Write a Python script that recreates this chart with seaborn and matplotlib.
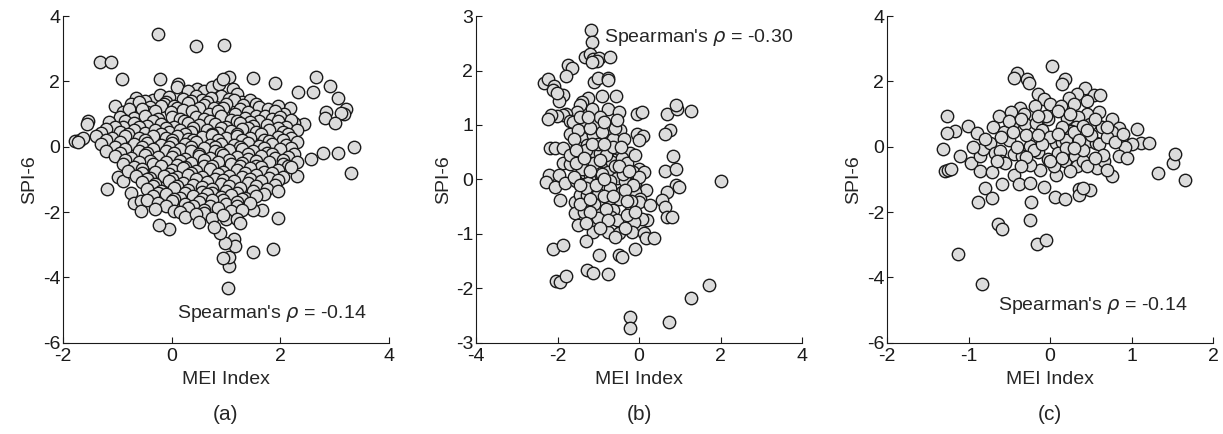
import matplotlib
matplotlib.use("Agg")
import matplotlib.pyplot as plt
import seaborn as sns
import pandas as pd

sns.set_theme(style="ticks")
plt.rcParams["font.family"] = ["Liberation Sans", "DejaVu Sans"]
plt.rcParams["mathtext.fontset"] = "dejavusans"
plt.rcParams["axes.unicode_minus"] = False

# ---- panel (a): all months ----
pts_a = [
    (-0.26, 3.44), (0.45, 3.08), (0.96, 3.11), (-1.31, 2.6), (-1.11, 2.6), (-0.92, 2.06), (-0.22, 2.06),
    (1.49, 2.1), (1.91, 1.95), (2.66, 2.15), (2.33, 1.67), (2.6, 1.69), (2.92, 1.86), (3.07, 1.5),
    (3.2, 1.16), (3.18, 1.0), (3.12, 1.03), (2.84, 1.06), (2.82, 0.88), (3.01, 0.72), (2.43, 0.70),
    (2.26, 0.73), (3.35, 0.0), (3.3, -0.79), (3.07, -0.19), (2.78, -0.19), (2.57, -0.36), (2.31, -0.89),
    (1.95, -2.17), (1.87, -3.13), (1.49, -3.22), (1.03, -4.33), (1.06, -3.66), (1.05, -3.37), (0.94, -3.4),
    (1.14, -2.82), (1.17, -3.05), (0.99, -2.94), (0.89, -2.64), (-0.04, -2.51), (-0.23, -2.38),
    (1.66, -1.92), (1.49, -1.94), (-1.78, 0.18), (-1.69, 0.21), (-1.63, 0.26), (-1.72, 0.15),
    (-1.54, 0.8), (-1.56, 0.70), (-1.36, 0.34), (-1.19, -1.3), (-0.99, -0.94), (-0.90, -1.05),
    (-0.75, -1.4), (-0.69, -1.71), (-0.57, -1.66), (-0.57, -1.97), (-1.04, 1.26), (0.12, 1.93),
    (0.10, 1.82), (0.47, 1.78), (0.60, 1.72), (0.75, 1.84), (0.87, 1.93), (1.05, 2.13), (0.94, 2.06),
    (1.12, 1.76), (1.20, 1.63), (0.30, 1.70),
    (-0.65, 1.49), (-0.35, 1.42), (-0.22, 1.57), (0.20, 1.47), (0.45, 1.56), (0.55, 1.42), (0.90, 1.55),
    (1.05, 1.45), (1.30, 1.38), (1.45, 1.42), (0.72, 1.50), (-0.05, 1.52),
    (-0.50, 1.40), (-0.10, 1.38), (0.35, 1.40), (0.65, 1.36), (1.15, 1.42), (1.55, 1.30),
    (-0.75, 1.30), (-0.60, 1.36), (-0.40, 1.22), (-0.15, 1.30), (0.05, 1.25), (0.30, 1.33), (0.60, 1.28),
    (0.78, 1.20), (1.00, 1.32), (1.32, 1.28), (1.60, 1.22), (1.78, 1.16), (2.17, 1.18), (-0.20, 1.26),
    (-0.90, 1.05), (-0.45, 1.05), (0.10, 1.18), (0.50, 1.18), (0.95, 1.18), (1.25, 1.15), (1.95, 1.25),
    (-0.78, 1.16), (-0.55, 1.16), (-0.30, 1.08), (-0.02, 1.06), (0.20, 1.12), (0.38, 1.08), (0.68, 1.00),
    (0.85, 1.10), (1.17, 1.00), (1.40, 1.05), (1.56, 0.95), (1.72, 0.95), (2.07, 1.00), (1.90, 1.08),
    (-0.96, 0.90), (-0.70, 0.88), (-0.50, 0.95), (-0.25, 0.85), (0.00, 0.92), (0.15, 0.84), (0.45, 0.90),
    (0.60, 0.86), (0.90, 0.94), (1.10, 0.82), (1.35, 0.88), (1.60, 0.80), (1.85, 0.86), (2.00, 0.92),
    (-0.85, 0.78), (-0.35, 0.78), (0.22, 0.78), (0.70, 0.78), (1.20, 0.78), (1.45, 0.76), (1.95, 0.78),
    (2.20, 0.82),
    (-1.15, 0.75), (-0.69, 0.73), (-0.45, 0.65), (-0.20, 0.70), (0.05, 0.62), (0.30, 0.74), (0.50, 0.66),
    (0.80, 0.70), (1.00, 0.60), (1.25, 0.72), (1.50, 0.64), (1.75, 0.68), (2.10, 0.62), (-0.90, 0.62),
    (-1.05, 0.62), (-0.60, 0.60), (-0.10, 0.58), (0.40, 0.58), (0.90, 0.58), (1.40, 0.58), (1.95, 0.58),
    (-1.20, 0.54), (-0.95, 0.46), (-0.70, 0.52), (-0.50, 0.42), (-0.30, 0.50), (-0.05, 0.46), (0.15, 0.52),
    (0.35, 0.44), (0.65, 0.50), (0.85, 0.42), (1.10, 0.48), (1.30, 0.54), (1.55, 0.44), (1.80, 0.50),
    (2.05, 0.46), (2.30, 0.52),
    (-1.30, 0.42), (-0.80, 0.40), (-0.20, 0.38), (0.25, 0.38), (0.75, 0.40), (1.20, 0.40), (1.65, 0.38),
    (2.15, 0.40),
    (-1.40, 0.34), (-1.10, 0.28), (-0.85, 0.32), (-0.60, 0.26), (-0.35, 0.34), (-0.10, 0.28), (0.10, 0.32),
    (0.30, 0.24), (0.55, 0.30), (0.75, 0.36), (1.00, 0.26), (1.20, 0.32), (1.45, 0.28), (1.70, 0.22),
    (1.95, 0.30), (2.20, 0.26),
    (-1.20, 0.20), (-0.50, 0.20), (0.00, 0.20), (0.40, 0.20), (0.85, 0.20), (1.30, 0.20), (1.80, 0.18),
    (2.05, 0.20),
    (-1.30, 0.10), (-0.95, 0.14), (-0.70, 0.08), (-0.45, 0.12), (-0.20, 0.06), (0.00, 0.12), (0.25, 0.08),
    (0.45, 0.14), (0.70, 0.04), (0.90, 0.10), (1.15, 0.06), (1.40, 0.12), (1.60, 0.02), (1.85, 0.10),
    (2.10, 0.06), (2.30, 0.14),
    (-1.05, 0.00), (-0.55, -0.02), (-0.05, 0.00), (0.35, 0.00), (0.80, -0.02), (1.25, 0.00), (1.70, -0.04),
    (2.20, -0.04),
    (-1.20, -0.14), (-0.85, -0.08), (-0.60, -0.12), (-0.35, -0.06), (-0.10, -0.14), (0.15, -0.08),
    (0.35, -0.12), (0.60, -0.04), (0.80, -0.14), (1.05, -0.10), (1.30, -0.06), (1.50, -0.12),
    (1.75, -0.18), (2.00, -0.08), (2.25, -0.22),
    (-0.95, -0.20), (-0.45, -0.20), (0.05, -0.20), (0.50, -0.22), (0.90, -0.20), (1.40, -0.22),
    (1.85, -0.22),
    (-1.05, -0.28), (-0.75, -0.34), (-0.50, -0.26), (-0.25, -0.32), (0.00, -0.30), (0.25, -0.36),
    (0.50, -0.28), (0.70, -0.34), (0.95, -0.26), (1.20, -0.32), (1.40, -0.38), (1.65, -0.28),
    (1.90, -0.34), (2.15, -0.30),
    (-0.85, -0.40), (-0.40, -0.42), (0.15, -0.42), (0.60, -0.40), (1.05, -0.40), (1.55, -0.42),
    (2.05, -0.40),
    (-0.90, -0.52), (-0.60, -0.46), (-0.35, -0.54), (-0.10, -0.48), (0.10, -0.56), (0.35, -0.50),
    (0.60, -0.58), (0.85, -0.46), (1.10, -0.54), (1.30, -0.50), (1.55, -0.58), (1.80, -0.46),
    (2.05, -0.52), (2.30, -0.48),
    (-0.70, -0.62), (-0.20, -0.60), (0.25, -0.62), (0.75, -0.60), (1.25, -0.60), (1.65, -0.62),
    (2.15, -0.60),
    (-0.80, -0.74), (-0.55, -0.68), (-0.30, -0.76), (0.00, -0.70), (0.20, -0.66), (0.45, -0.74),
    (0.70, -0.68), (0.95, -0.76), (1.20, -0.70), (1.45, -0.64), (1.70, -0.76), (1.95, -0.70), (2.20, -0.62),
    (-0.55, -0.80), (-0.05, -0.82), (0.35, -0.80), (0.85, -0.82), (1.35, -0.80), (1.85, -0.80),
    (-0.65, -0.90), (-0.40, -0.96), (-0.15, -0.88), (0.10, -0.94), (0.30, -0.86), (0.55, -0.92),
    (0.80, -0.98), (1.05, -0.88), (1.30, -0.94), (1.55, -0.86), (1.80, -0.96), (2.05, -0.92),
    (-0.45, -1.00), (0.00, -1.00), (0.45, -1.00), (0.95, -1.02), (1.45, -1.00), (1.95, -1.02),
    (-0.55, -1.08), (-0.30, -1.14), (-0.05, -1.06), (0.20, -1.12), (0.40, -1.18), (0.65, -1.08),
    (0.90, -1.14), (1.15, -1.04), (1.40, -1.12), (1.65, -1.06), (1.90, -1.16),
    (-0.35, -1.20), (0.10, -1.20), (0.55, -1.22), (1.05, -1.20), (1.55, -1.20),
    (-0.45, -1.28), (-0.20, -1.34), (0.05, -1.26), (0.30, -1.32), (0.55, -1.38), (0.75, -1.28),
    (1.00, -1.34), (1.25, -1.26), (1.50, -1.36), (1.75, -1.30), (1.95, -1.34),
    (-0.25, -1.40), (0.25, -1.42), (0.75, -1.40), (1.20, -1.40), (1.70, -1.44),
    (-0.35, -1.52), (-0.10, -1.46), (0.15, -1.56), (0.40, -1.50), (0.65, -1.44), (0.90, -1.54),
    (1.10, -1.48), (1.35, -1.56), (1.55, -1.50),
    (-0.45, -1.62), (0.05, -1.60), (0.55, -1.60), (0.95, -1.62), (1.30, -1.60),
    (-0.25, -1.72), (0.00, -1.66), (0.25, -1.76), (0.50, -1.70), (0.75, -1.64), (1.00, -1.74),
    (1.20, -1.68), (1.45, -1.72),
    (-0.10, -1.80), (0.40, -1.80), (0.70, -1.82), (1.20, -1.80),
    (-0.30, -1.90), (0.05, -1.96), (0.30, -1.86), (0.60, -1.94), (0.85, -1.88), (1.10, -1.98), (1.30, -1.92),
    (0.15, -2.00), (0.60, -2.02), (1.00, -2.20),
    (0.25, -2.14), (0.45, -2.06), (0.75, -2.18), (0.95, -2.10), (1.20, -2.22),
    (0.50, -2.30), (1.25, -2.32), (0.78, -2.45),
]
mei_a = [p[0] for p in pts_a]
spi_a = [p[1] for p in pts_a]

# ---- panel (b) ----
pts_b = [
    (-1.18, 2.75), (-1.16, 2.53), (-1.33, 2.25), (-1.2, 2.31), (-1.12, 2.22), (-0.97, 2.23), (-0.72, 2.25),
    (-1.04, 2.17), (-1.16, 2.16), (-1.75, 2.11), (-1.65, 2.04), (-1.79, 1.9), (-2.34, 1.78), (-2.23, 1.85),
    (-2.09, 1.72), (-2.1, 1.64), (-1.1, 1.79), (-1.0, 1.87), (-0.77, 1.87), (-0.77, 1.82),
    (-1.86, 1.55), (-1.96, 1.44), (-2.02, 1.58), (-0.91, 1.54), (-0.56, 1.54), (-1.24, 1.49), (-1.41, 1.43),
    (-1.45, 1.36), (-1.16, 1.30), (-0.75, 1.30), (-0.5, 1.23), (-1.53, 1.24), (-1.78, 1.21), (-1.86, 1.18),
    (-2.02, 1.17), (-2.15, 1.19), (-2.23, 1.11), (-0.05, 1.21), (0.07, 1.24), (0.69, 1.21), (0.94, 1.3),
    (1.27, 1.25), (0.9, 1.36), (-1.7, 1.07), (-1.61, 1.05), (-1.34, 1.01), (-1.04, 1.03), (-0.72, 0.95),
    (-0.46, 0.91), (-1.7, 0.83), (-1.41, 0.76), (-1.12, 0.81), (-0.91, 0.87), (-0.63, 0.75), (-0.38, 0.75),
    (-0.05, 0.83), (0.1, 0.8), (-0.01, 0.72), (0.77, 0.91), (0.65, 0.84),
    (-2.19, 0.57), (-2.07, 0.57), (-1.86, 0.57), (-1.53, 0.6), (-1.28, 0.63), (-1.12, 0.52), (-0.95, 0.48),
    (-0.75, 0.52), (-0.5, 0.56), (-0.23, 0.48), (-1.49, 0.42), (0.84, 0.43),
    (-1.86, 0.31), (-1.7, 0.28), (-1.28, 0.26), (-1.0, 0.29), (-0.83, 0.31), (-0.67, 0.32), (-0.42, 0.39),
    (-0.01, 0.2), (-0.15, 0.14), (0.12, 0.13), (0.65, 0.15), (0.92, 0.19),
    (-2.21, 0.08), (-1.96, 0.09), (-1.41, 0.14), (-1.2, 0.08), (-0.95, 0.11), (-0.75, 0.14), (-0.54, 0.03),
    (-2.27, -0.04), (-2.07, -0.13), (-1.82, -0.07), (-1.55, -0.03), (-1.24, -0.07), (-0.71, -0.03),
    (-0.34, -0.03), (-0.09, -0.07), (0.16, -0.2), (0.91, -0.1), (0.98, -0.13),
    (-1.94, -0.38), (-1.57, -0.41), (-1.45, -0.29), (-1.28, -0.29), (-1.0, -0.26), (-0.71, -0.41),
    (-0.42, -0.23), (-0.09, -0.23), (0.03, -0.35), (-0.01, -0.42), (0.28, -0.46), (0.69, -0.23),
    (0.57, -0.38), (0.65, -0.5),
    (-1.57, -0.62), (-1.27, -0.53), (-0.95, -0.59), (-0.63, -0.56), (-0.23, -0.59), (0.2, -0.75),
    (0.07, -0.72), (0.69, -0.69), (0.81, -0.69),
    (-1.49, -0.83), (-1.16, -0.75), (-0.91, -0.83), (-0.69, -0.69), (-0.42, -0.83), (-0.13, -0.78),
    (-1.14, -0.96), (-0.75, -0.96), (-0.5, -0.99), (-0.17, -0.96), (0.12, -0.99), (0.18, -1.07), (0.38, -1.08),
    (-1.31, -1.13), (-2.12, -1.28), (-1.86, -1.2), (-0.97, -1.38), (-0.5, -1.38), (-0.42, -1.42),
    (-0.09, -1.28), (-1.28, -1.66), (-1.14, -1.72), (-0.75, -1.74), (-2.04, -1.87), (-1.94, -1.88),
    (-1.78, -1.77), (1.72, -1.94), (1.28, -2.18), (-0.21, -2.52), (-0.21, -2.73), (0.73, -2.62),
    (2.02, -0.03),
    (-1.5, 0.9), (-1.3, 0.55), (-1.1, 0.3), (-0.9, 0.1), (-0.7, -0.15), (-0.5, -0.35), (-1.3, -0.15),
    (-1.1, -0.45), (-0.85, -0.3), (-0.6, 0.25), (-0.4, 0.1), (-1.4, 0.2), (-1.2, 0.95), (-0.95, 1.15),
    (-0.6, 0.95), (-1.0, 0.65), (-0.8, 0.45), (-0.3, 0.3), (-0.2, -0.4), (-1.0, -0.7), (-0.8, -0.55),
    (-1.35, -0.6), (-0.55, -0.75), (-0.3, -0.65), (-1.2, 0.15), (-0.65, 0.6), (-1.6, 0.75), (-1.7, 0.45),
    (-1.6, 0.05), (-0.1, 0.45), (0.0, 0.05), (-0.15, -0.1),
    (-1.45, 1.15), (-1.25, 1.15), (-0.85, 1.05), (-0.55, 1.1), (-1.55, 0.55), (-1.15, 0.65), (-0.85, 0.65),
    (-0.45, 0.6), (-1.55, 0.3), (-1.35, 0.4), (-0.95, 0.35), (-0.5, 0.25), (-0.25, 0.15), (-1.45, -0.1),
    (-1.05, -0.1), (-0.85, 0.0), (-0.35, -0.2), (-1.45, -0.45), (-1.2, -0.35), (-0.65, -0.3), (-0.3, -0.4),
    (-1.2, -0.6), (-0.75, -0.75), (-0.35, -0.9), (-0.1, -0.6), (-1.3, -0.8), (-0.95, -0.9), (-0.6, -1.05),
]
mei_b = [p[0] for p in pts_b]
spi_b = [p[1] for p in pts_b]

# ---- panel (c) ----
pts_c = [
    (0.02, 2.46), (-0.41, 2.27), (-0.44, 2.1), (-0.28, 2.06), (-0.26, 1.95), (0.18, 2.08), (0.15, 1.93),
    (0.43, 1.79), (0.33, 1.62), (0.23, 1.49), (0.54, 1.57), (0.61, 1.59), (-0.15, 1.62), (-0.07, 1.47),
    (0.0, 1.31), (-0.19, 1.24), (0.14, 1.26), (-0.37, 1.18), (-0.48, 1.06), (-0.62, 0.95), (-0.32, 1.0),
    (0.6, 1.06), (0.45, 1.0), (0.34, 0.9), (-1.26, 0.95), (-1.01, 0.63), (-1.17, 0.49), (-1.26, 0.42),
    (-0.89, 0.41), (-0.7, 0.59), (-0.56, 0.46), (-0.45, 0.73), (-0.31, 0.7), (-0.17, 0.73), (-0.03, 0.85),
    (0.21, 0.87), (0.32, 0.59), (0.24, 0.49), (0.49, 0.7), (0.76, 0.85), (0.64, 0.59), (0.85, 0.56),
    (1.07, 0.54), (0.76, 0.44), (0.88, 0.18), (1.12, 0.11), (1.22, 0.11), (1.0, 0.08), (0.92, -0.02),
    (-1.31, -0.07), (-1.1, -0.28), (-0.97, -0.5), (-0.86, -0.28), (-0.82, -0.07), (-0.74, 0.13),
    (-0.68, -0.19), (-0.61, -0.12), (-0.6, -0.43), (-0.44, -0.23), (-0.34, -0.28), (-0.24, 0.01),
    (-0.15, -0.17), (-0.09, 0.24), (-0.02, -0.38), (0.07, 0.13), (0.15, 0.15), (0.19, -0.43), (0.26, 0.49),
    (0.31, -0.28), (0.33, -0.58), (0.41, -0.43), (0.49, 0.18), (0.56, 0.13), (0.58, -0.64), (0.66, -0.43),
    (0.76, -0.89), (0.7, -0.71), (0.85, -0.28), (0.94, -0.33),
    (-1.29, -0.74), (-1.25, -0.71), (-1.22, -0.67), (-0.86, -0.74), (-0.71, -0.77),
    (-0.59, -1.15), (-0.44, -0.87), (-0.38, -1.15), (-0.24, -1.1), (-0.12, -0.71), (-0.07, -1.22),
    (0.07, -0.87), (0.06, -1.53), (0.18, -1.61), (-0.8, -1.25), (-0.71, -1.58), (-0.88, -1.69),
    (-0.23, -1.69), (0.35, -1.3), (0.36, -1.49), (0.49, -1.32), (0.41, -1.25),
    (-0.24, -2.25), (-0.64, -2.35), (-0.59, -2.51), (-0.16, -2.99), (-0.05, -2.84), (-1.13, -3.27),
    (-0.84, -4.19), (1.33, -0.79), (1.51, -0.51), (1.53, -0.23), (1.66, -1.03),
    (-0.5, 0.2), (-0.4, 0.0), (-0.3, 0.35), (-0.2, -0.1), (-0.1, 0.5), (0.0, 0.3), (0.1, -0.2), (0.2, 0.2),
    (0.3, 0.45), (0.4, -0.1), (0.5, 0.35), (0.6, 0.1), (-0.25, -0.55), (0.05, -0.6), (0.25, -0.75),
    (0.45, -0.6), (0.15, 0.6), (0.35, 0.2), (-0.05, 0.95), (0.1, 1.1), (0.3, 1.3), (0.45, 1.4), (0.55, 0.85),
    (0.7, 0.3), (-0.5, 0.8), (-0.15, 0.95), (0.25, 1.0), (0.65, -0.25), (-0.55, -0.5), (-0.45, 0.45),
    (0.0, -0.45), (0.2, -0.05), (-0.35, 0.85), (0.4, 0.65), (0.8, 0.15), (0.1, 0.4), (-0.1, 0.1), (-0.3, -0.3),
    (-0.8, 0.25), (-0.95, 0.0), (-0.6, 0.3), (-0.15, 0.35), (0.45, 0.5), (0.7, 0.6), (0.9, 0.4),
    (-0.35, -0.6), (0.15, -0.35), (0.55, -0.35), (-0.65, -0.45), (0.3, -0.05),
]
mei_c = [p[0] for p in pts_c]
spi_c = [p[1] for p in pts_c]

rho_labels = ["Spearman's $\\rho$ = -0.14", "Spearman's $\\rho$ = -0.30", "Spearman's $\\rho$ = -0.14"]
panel_tags = ["(a)", "(b)", "(c)"]
x_limits = [(-2, 4), (-4, 4), (-2, 2)]
y_limits = [(-6, 4), (-3, 3), (-6, 4)]
x_ticks = [[-2, 0, 2, 4], [-4, -2, 0, 2, 4], [-2, -1, 0, 1, 2]]
y_ticks = [[-6, -4, -2, 0, 2, 4], [-3, -2, -1, 0, 1, 2, 3], [-6, -4, -2, 0, 2, 4]]
rho_pos = [(0.10, -5.1), (-0.85, 2.6), (-0.64, -4.86)]

frames = [
    pd.DataFrame({"MEI": mei_a, "SPI": spi_a}),
    pd.DataFrame({"MEI": mei_b, "SPI": spi_b}),
    pd.DataFrame({"MEI": mei_c, "SPI": spi_c}),
]

fig = plt.figure(figsize=(12.23, 4.34), dpi=100)
lefts = [63 / 1223, 476 / 1223, 887 / 1223]
axes = [fig.add_axes([l, 0.210, 326 / 1223, 0.753]) for l in lefts]

for i, ax in enumerate(axes):
    sns.scatterplot(data=frames[i], x="MEI", y="SPI", ax=ax, s=80,
                    color="#dcdcdc", edgecolor="#1a1a1a", linewidth=1.0, legend=False)
    ax.set_xlim(*x_limits[i])
    ax.set_ylim(*y_limits[i])
    ax.set_xticks(x_ticks[i])
    ax.set_yticks(y_ticks[i])
    ax.tick_params(direction="in", length=4, width=0.8, labelsize=14, colors="#1a1a1a")
    ax.tick_params(axis="x", pad=4)
    ax.tick_params(axis="y", pad=2)
    sns.despine(ax=ax)
    for sp in ("left", "bottom"):
        ax.spines[sp].set_color("#1a1a1a")
        ax.spines[sp].set_linewidth(0.8)
    ax.set_xlabel("MEI Index", fontsize=14, labelpad=4)
    ax.set_ylabel("SPI-6", fontsize=14, labelpad=3)
    ax.text(rho_pos[i][0], rho_pos[i][1], rho_labels[i], fontsize=14, ha="left", va="center")
    ax.text(0.5, -0.22, panel_tags[i], transform=ax.transAxes, fontsize=15, ha="center", va="center")

fig.savefig("out.png", dpi=100)
